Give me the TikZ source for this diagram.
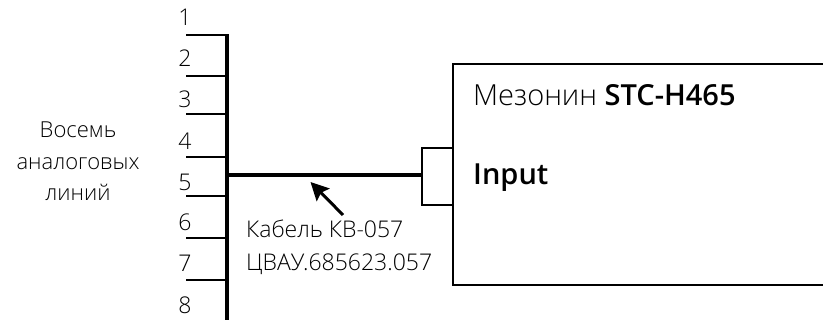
\documentclass[tikz,border=0pt]{standalone}
\usepackage{fontspec}
\setmainfont{Open Sans}[UprightFont=* Light,BoldFont=* Semibold]
\usetikzlibrary{arrows.meta}
\tikzset{
  lbl/.style={inner sep=0pt,font=\fontsize{22}{31.5}\selectfont,text=black},
  captext/.style={inner sep=0pt,font=\fontsize{23}{33}\selectfont,text=black},
  big/.style={inner sep=0pt,anchor=west,font=\fontsize{29}{32}\selectfont,text=black},
  tickline/.style={line width=2pt},
  bus/.style={line width=4pt},
  thin box/.style={draw,line width=2pt}
}
\begin{document}
\begin{tikzpicture}[x=1pt,y=-1pt]
\useasboundingbox (0,0) rectangle (823,320);
\coordinate (bt) at (226.5,34.5);
\coordinate (bb) at (226.5,320);
\draw[bus] (bt) -- (bb);
\foreach \n/\ty in {1/17,2/58,3/99,4/141,5/182,6/222.5,7/263,8/305}{
  \node[captext] (n\n) at (185,\ty) {\n};
}
\foreach \n/\y in {1/35.5,2/76,3/114.5,4/157,5/196,6/238.5,7/280}{
  \coordinate (ta\n) at (186,\y);
  \coordinate (tb\n) at (226,\y);
  \draw[tickline] (ta\n) -- (tb\n);
}
\node[lbl,align=center] (lines) at (78,161.5) {Восемь\\аналоговых\\линий};
\node[thin box,minimum width=31pt,minimum height=57pt,inner sep=0pt] (conn) at (437.5,176.5) {};
\coordinate (ct) at (226.5,175);
\draw[bus] (ct) -- (conn.west |- ct);
\coordinate (tl) at (823,64);
\coordinate (bl) at (823,285);
\draw[thin box] (tl) -- (452.5,64) -- (452.5,285) -- (bl);
\node[big] (title) at (473,95) {Мезонин \textbf{STC-H465}};
\node[big] (input) at (473,177.5) {\textbf{Input}};
\node[captext,anchor=north west,align=left] (cable) at (246,220) {Кабель КВ-057\\ЦВАУ.685623.057};
\coordinate (as) at (343,215);
\coordinate (ae) at (310.5,182);
\draw[line width=3pt,-{Stealth[length=18pt,width=18pt,inset=3pt]}] (as) -- (ae);
\end{tikzpicture}
\end{document}
